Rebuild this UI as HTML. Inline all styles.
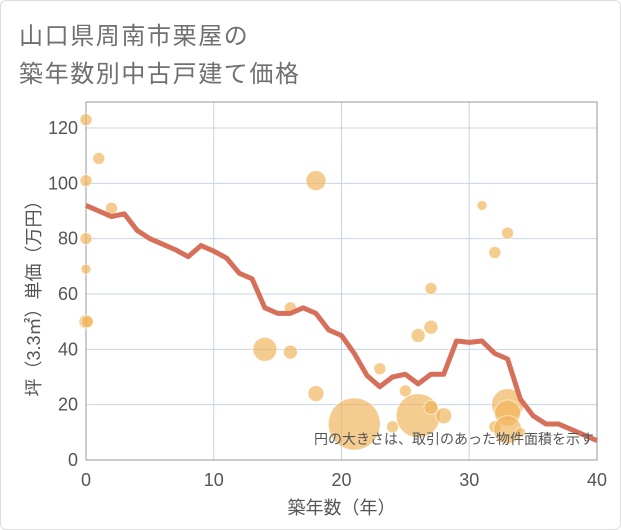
<!DOCTYPE html>
<html><head><meta charset="utf-8"><style>
body{margin:0;background:#fff;}
#wrap{position:relative;width:619px;height:528px;border:1px solid #ddd;border-radius:6px;overflow:hidden;background:#fff;}
.t{position:absolute;left:18px;font:24px "Liberation Sans","Noto Sans CJK JP",sans-serif;color:#707070;letter-spacing:1.6px;}
svg text{font-family:"Liberation Sans","Noto Sans CJK JP",sans-serif;}
</style></head><body>
<div id="wrap">
<div class="t" style="top:15px">山口県周南市栗屋の</div>
<div class="t" style="top:53px">築年数別中古戸建て価格</div>
<svg id="c" width="621" height="530" style="position:absolute;left:-1px;top:-1px"></svg>
</div>
<script>
const xTicks=[0,10,20,30,40];
const yTicks=[0,20,40,60,80,100,120];
const lineYears=[0,1,2,3,4,5,6,7,8,9,10,11,12,13,14,15,16,17,18,19,20,21,22,23,24,25,26,27,28,29,30,31,32,33,34,35,36,37,38,39,40];
const linePrices=[92,90,88,89,83,80,78,76,73.5,77.5,75.5,73,67.5,65.5,55,53,53,55,53,47,45,38.5,30.5,26.5,30,31,27.5,31,31,43,42.5,43,38.5,36.5,22,16,13,13,11,9,7];
const ptAge=[0,1,0,2,0,0,0,0.1,18,16,14,16,18,21,23,24,25,26,26,27,27,27,28,31,32,33,33,33,32,33,34];
const ptPrice=[123,109,101,91,80,69,50,50,101,55,40,39,24,13,33,12,25,16,45,62,48,19,16,92,75,82,20,17,12,11,10];
const ptSize=[6,6,6,6,6,5,7,6,10,6,12,7,8,26,6,6,6,22,7,6,7,7,8,5,6,6,16,13,6,14,5];
const X0=86,X1=597,Y0=460,Y1=128;
const sx=v=>X0+(v-0)*(X1-X0)/40;
const sy=v=>Y0-(v)*(Y0-Y1)/120;
const svg=document.getElementById('c');const NS='http://www.w3.org/2000/svg';
function mk(t,a){const e=document.createElementNS(NS,t);for(const k in a)e.setAttribute(k,a[k]);svg.appendChild(e);return e;}
xTicks.forEach(v=>{const l=mk('line',{x1:sx(v),x2:sx(v),y1:Y1-26,y2:Y0,stroke:'#c9d4e3','stroke-width':1});


const t=mk('text',{x:sx(v),y:Y0+26,'text-anchor':'middle','font-size':18,fill:'#555'});t.textContent=v;

});
yTicks.forEach(v=>{const l=mk('line',{x1:X0,x2:X1,y1:sy(v),y2:sy(v),stroke:'#c9d4e3','stroke-width':1});


const t=mk('text',{x:X0-8,y:sy(v)+6,'text-anchor':'end','font-size':18,fill:'#555'});t.textContent=v;

});
const fr=mk('rect',{x:X0,y:Y1-26,width:X1-X0,height:Y0-Y1+26,fill:'none',stroke:'#999','stroke-width':1});


ptAge.forEach((a,i)=>{const c=mk('circle',{cx:sx(a),cy:sy(ptPrice[i]),r:ptSize[i],fill:'rgba(240,180,90,0.68)',stroke:'rgba(255,255,255,0.6)','stroke-width':1});

});
const p=mk('polyline',{points:lineYears.map((y,i)=>sx(y)+','+sy(linePrices[i])).join(' '),fill:'none',stroke:'#d6705a','stroke-width':5,'stroke-linejoin':'round'});


const n=mk('text',{x:594,y:444,'text-anchor':'end','font-size':14,fill:'#555'});n.textContent='円の大きさは、取引のあった物件面積を示す';


const xt=mk('text',{x:(X0+X1)/2,y:514,'text-anchor':'middle','font-size':18,fill:'#555'});xt.textContent='築年数（年）';


const yt=mk('text',{x:0,y:0,'text-anchor':'middle','font-size':18,fill:'#555',transform:'translate(40,294) rotate(-90)'});yt.textContent='坪（3.3㎡）単価（万円）';


</script>
</body></html>
